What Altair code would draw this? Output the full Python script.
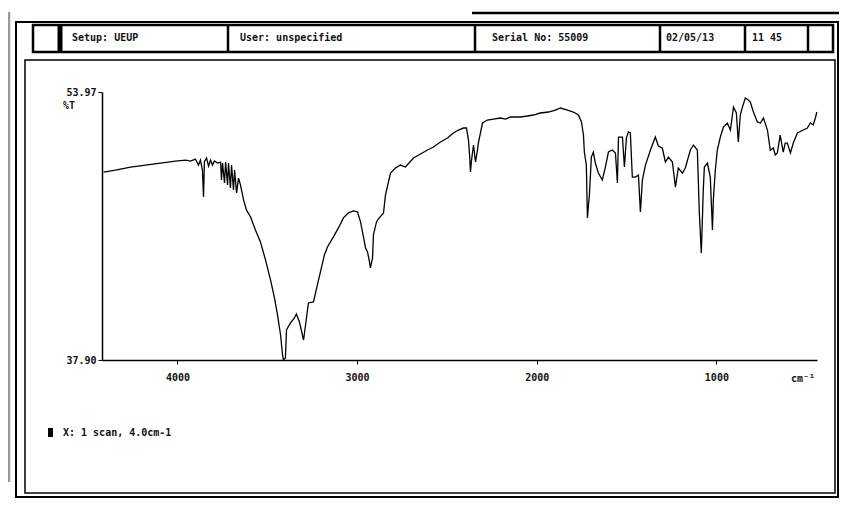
import altair as alt
import pandas as pd

# IR spectrum (wavenumber cm-1, %T)
wavenumber = [4411, 4345, 4261, 4178, 4094, 4011, 3955, 3927, 3900, 3883, 3872, 3861, 3855, 3850, 3838,
              3827, 3816, 3805, 3794, 3777, 3760, 3755, 3749, 3738, 3732, 3721, 3716, 3705, 3699, 3688,
              3682, 3671, 3660, 3649, 3632, 3616, 3593, 3566, 3538, 3510, 3482, 3460, 3443, 3426, 3415,
              3410, 3399, 3393, 3371, 3349, 3338, 3321, 3298, 3287, 3271, 3243, 3221, 3204, 3182, 3165,
              3132, 3104, 3076, 3048, 3020, 2998, 2981, 2970, 2953, 2942, 2931, 2926, 2914, 2909, 2892,
              2881, 2853, 2842, 2814, 2786, 2759, 2731, 2686, 2647, 2608, 2575, 2536, 2497, 2464, 2436,
              2408, 2391, 2380, 2374, 2369, 2363, 2352, 2341, 2330, 2325, 2302, 2275, 2241, 2202, 2174,
              2146, 2091, 2052, 2019, 1980, 1935, 1896, 1868, 1829, 1796, 1768, 1751, 1740, 1735, 1724,
              1718, 1707, 1701, 1696, 1685, 1674, 1657, 1635, 1618, 1601, 1579, 1562, 1551, 1545, 1523,
              1512, 1501, 1490, 1479, 1468, 1451, 1434, 1423, 1412, 1395, 1367, 1340, 1323, 1301, 1284,
              1267, 1245, 1228, 1212, 1189, 1173, 1145, 1128, 1106, 1095, 1084, 1073, 1067, 1050, 1034,
              1022, 1017, 1006, 995, 978, 961, 939, 922, 905, 889, 878, 867, 855, 839, 822,
              811, 794, 772, 755, 738, 716, 700, 683, 672, 661, 645, 628, 617, 605, 588,
              572, 549, 516, 494, 477, 461, 449, 441]
transmittance = [49.17, 49.29, 49.47, 49.59, 49.71, 49.83, 49.89, 49.83, 49.95, 49.59, 49.89, 49.29, 47.68, 49.77, 50.01,
                 49.53, 49.89, 49.59, 49.83, 49.71, 49.77, 48.69, 49.71, 48.51, 49.77, 48.39, 49.71, 48.21, 49.59, 48.09,
                 49.29, 47.92, 48.81, 48.39, 47.50, 46.90, 46.48, 45.70, 44.98, 43.90, 42.70, 41.62, 40.60, 39.40, 38.20,
                 37.92, 38.02, 39.70, 40.12, 40.42, 40.66, 40.18, 39.10, 40.00, 41.32, 41.38, 42.40, 43.18, 44.20, 44.68,
                 45.28, 45.82, 46.42, 46.72, 46.84, 46.78, 46.18, 45.58, 44.62, 44.38, 43.78, 43.42, 44.02, 45.40, 46.18,
                 46.36, 46.72, 47.80, 49.11, 49.41, 49.59, 49.47, 50.01, 50.25, 50.49, 50.67, 50.97, 51.21, 51.51, 51.69,
                 51.81, 51.81, 51.09, 50.19, 49.17, 49.89, 50.79, 49.77, 50.49, 50.91, 52.11, 52.29, 52.35, 52.41, 52.35,
                 52.47, 52.47, 52.53, 52.59, 52.71, 52.77, 52.89, 53.01, 52.89, 52.77, 52.59, 52.17, 51.39, 50.37, 49.59,
                 46.42, 47.80, 49.00, 50.07, 50.37, 49.71, 49.11, 48.69, 49.47, 50.37, 50.49, 50.31, 48.51, 51.27, 51.27,
                 49.47, 51.21, 51.57, 51.51, 48.87, 48.87, 48.99, 46.78, 48.69, 49.59, 50.49, 51.27, 50.73, 50.61, 49.77,
                 50.07, 49.77, 48.27, 49.41, 49.11, 49.41, 50.49, 50.79, 50.49, 46.72, 44.32, 48.09, 49.47, 49.71, 48.87,
                 45.70, 47.50, 49.29, 50.49, 51.27, 51.87, 52.11, 51.69, 53.07, 52.71, 50.97, 52.59, 53.07, 53.61, 53.49,
                 53.37, 52.77, 52.17, 52.11, 52.41, 51.69, 50.49, 50.61, 50.19, 50.31, 51.39, 50.37, 50.91, 50.91, 50.31,
                 50.91, 51.51, 51.69, 51.81, 52.11, 51.99, 52.41, 52.77]

x_ticks = [4000, 3000, 2000, 1000]
y_ticks = [37.90, 53.97]
header_texts = ["Setup: UEUP", "User: unspecified", "Serial No: 55009", "02/05/13", "11 45"]
legend_text = "X: 1 scan, 4.0cm-1"

df = pd.DataFrame({"wn": wavenumber, "T": transmittance, "i": range(len(wavenumber))})
one = pd.DataFrame({"k": [0]})

FONT = "DejaVu Sans Mono"
W, H = 715, 268

xscale = alt.Scale(domain=[4420, 440], nice=False, zero=False)
yscale = alt.Scale(domain=[37.90, 53.97], nice=False, zero=False)

line = alt.Chart(df).mark_line(color="black", strokeWidth=1.3, strokeJoin="miter").encode(
    x=alt.X("wn:Q", scale=xscale,
            axis=alt.Axis(values=x_ticks, title=None, grid=False, domainColor="black", domainWidth=1.5,
                          tickColor="black", tickSize=4, labelFont=FONT, labelFontSize=10,
                          labelFontWeight="bold", labelColor="#111", labelPadding=8, format="d")),
    y=alt.Y("T:Q", scale=yscale,
            axis=alt.Axis(values=y_ticks, title=None, grid=False, domainColor="black", domainWidth=1.5,
                          tickColor="black", tickSize=4, labelFont=FONT, labelFontSize=10,
                          labelFontWeight="bold", labelColor="#111", labelPadding=2, format=".2f")),
    order="i:Q",
)


def rule(x1, y1, x2, y2, w=1.5, color="black"):
    return alt.Chart(one).mark_rule(color=color, strokeWidth=w).encode(
        x=alt.value(x1), x2=alt.value(x2), y=alt.value(y1), y2=alt.value(y2))


def box(x1, y1, x2, y2, w=1.5):
    return alt.Chart(one).mark_rect(fill="transparent", stroke="black", strokeWidth=w).encode(
        x=alt.value(x1), x2=alt.value(x2), y=alt.value(y1), y2=alt.value(y2))


def text(s, x, y, align="left", size=10):
    return alt.Chart(one).mark_text(text=s, font=FONT, fontSize=size, fontWeight="bold", align=align,
                                    baseline="middle", color="#111").encode(x=alt.value(x), y=alt.value(y))


layers = [
    # page edge shadow and top scan line
    rule(-93, -80, -93, 390, w=2.5, color="#999"),
    rule(370, -79, 737, -79, w=2.5),
    # outer frame
    box(-86, -70, 736, 405, w=2),
    # inner plot frame
    box(-77, -32, 733, 401, w=1.5),
    # header row
    box(-69, -67, 731, -40, w=2.5),
]
for xd in [-42, 126, 373, 558, 643, 706]:
    layers.append(rule(xd, -67, xd, -40, w=2.5))
layers.append(rule(-42, -67, -42, -40, w=5))
for s, xt in zip(header_texts, [-30, 138, 390, 564, 650]):
    layers.append(text(s, xt, -54))

layers += [
    text("%T", -33, 14, align="center"),
    text("cm\u207b\u00b9", 701, 287, align="center"),
    alt.Chart(one).mark_rect(fill="black").encode(
        x=alt.value(-54), x2=alt.value(-49), y=alt.value(336), y2=alt.value(345)),
    text(legend_text, -39, 341),
    line,
]

chart = alt.layer(*layers).properties(
    width=W, height=H,
    background="white",
    autosize=alt.AutoSizeParams(type="none"),
    padding={"left": 94, "top": 84, "right": 22, "bottom": 138},
).configure_view(stroke=None, strokeWidth=0).configure_axis(grid=False)

chart.save("out.html", embed_options={"renderer": "svg", "actions": False})
